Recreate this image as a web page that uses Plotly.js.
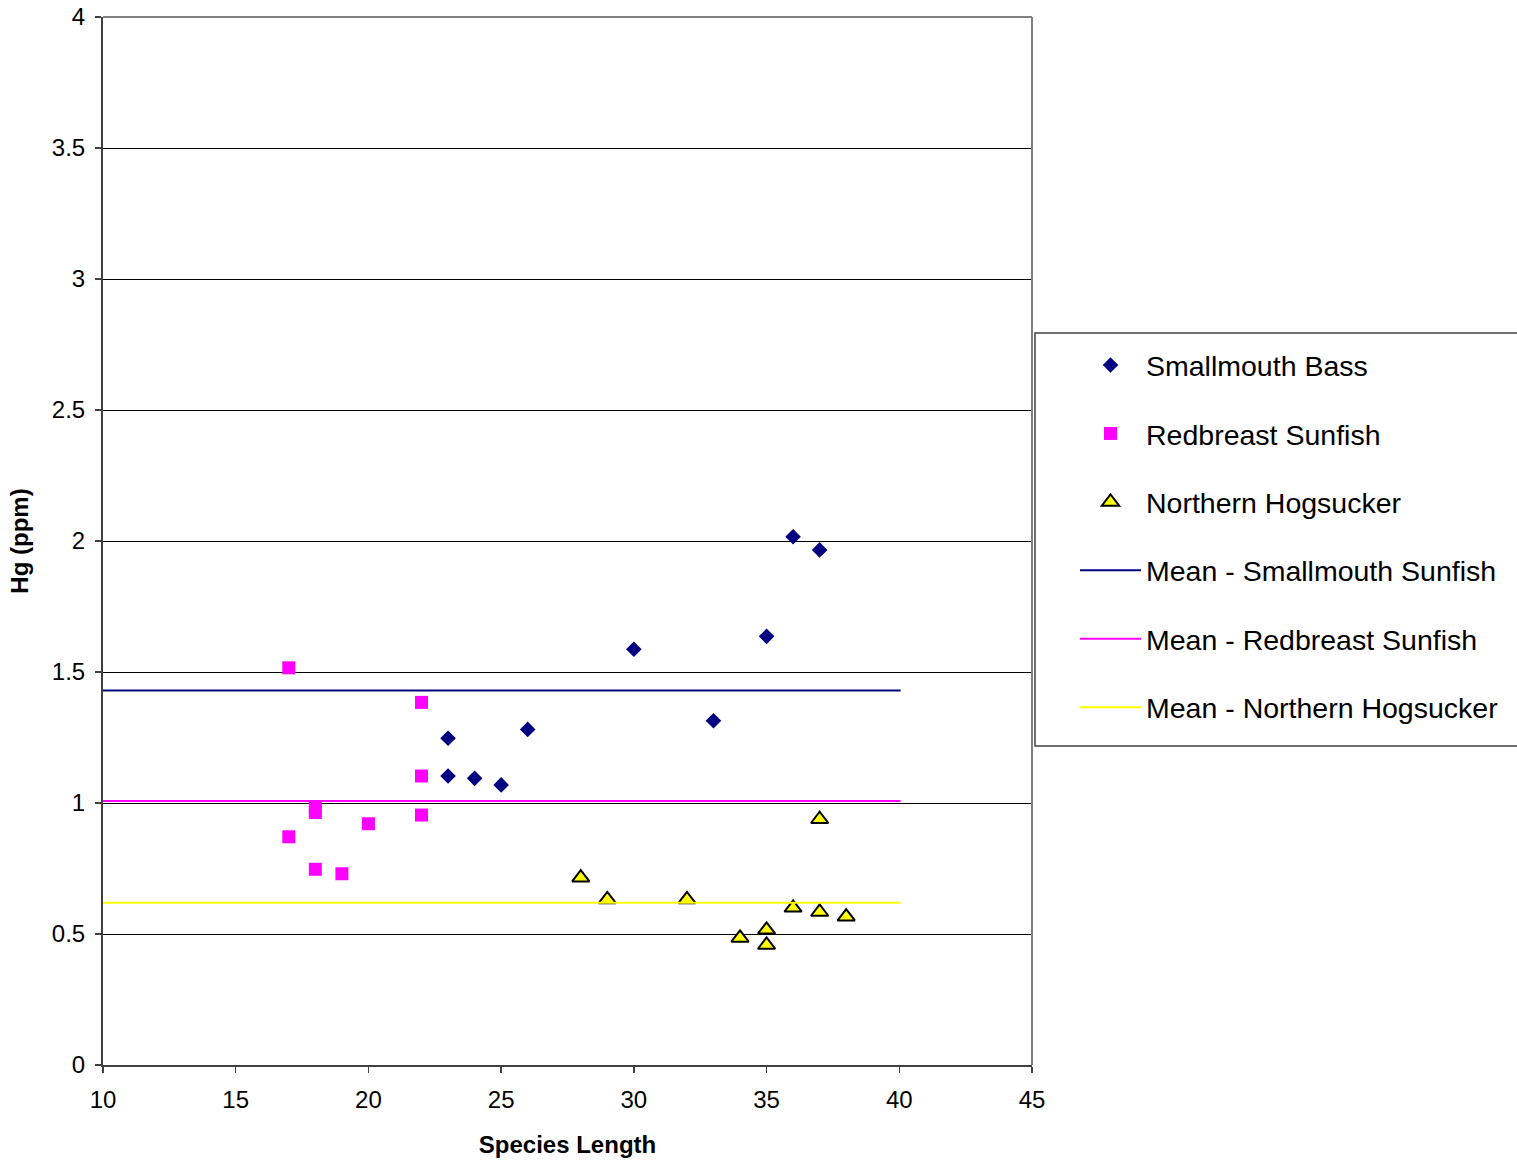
<!DOCTYPE html>
<html>
<head>
<meta charset="utf-8">
<script src="https://cdn.plot.ly/plotly-3.0.1.min.js"></script>
<style>
  html, body { margin: 0; padding: 0; background: #ffffff; }
  #chart { width: 1517px; height: 1161px; }
</style>
</head>
<body>
<div id="chart"></div>
<script>
// ---- Data ----
const bassLength = [23, 23, 24, 25, 26, 30, 33, 35, 36, 37];
const bassHg     = [1.247, 1.103, 1.094, 1.069, 1.281, 1.587, 1.314, 1.636, 2.016, 1.966];

const sunfishLength = [17, 17, 18, 18, 18, 19, 20, 22, 22, 22];
const sunfishHg     = [1.516, 0.871, 0.983, 0.964, 0.747, 0.730, 0.921, 1.384, 1.103, 0.954];

const hogLength = [28, 29, 32, 34, 35, 35, 36, 37, 37, 38];
const hogHg     = [0.715, 0.632, 0.632, 0.485, 0.516, 0.458, 0.600, 0.584, 0.938, 0.566];

const meanLength   = [9.75, 40.05];
const meanBass     = [1.429, 1.429];
const meanSunfish  = [1.008, 1.008];
const meanHog      = [0.619, 0.619];

const seriesNames = [
  'Smallmouth Bass',
  'Redbreast Sunfish',
  'Northern Hogsucker',
  'Mean - Smallmouth Sunfish',
  'Mean - Redbreast Sunfish',
  'Mean - Northern Hogsucker'
];

const xTitle = 'Species Length';
const yTitle = 'Hg (ppm)';

// ---- Styling ----
const FONT = '"Liberation Sans", Arial, sans-serif';
const NAVY = '#000080';
const MAGENTA = '#FF00FF';
const YELLOW = '#FFFF00';

const traces = [
  {
    x: bassLength, y: bassHg, name: seriesNames[0], type: 'scatter', mode: 'markers',
    legendgroup: 'g1',
    marker: { symbol: 'diamond', size: 12, color: NAVY, line: { width: 0 } }
  },
  {
    x: sunfishLength, y: sunfishHg, name: seriesNames[1], type: 'scatter', mode: 'markers',
    legendgroup: 'g2',
    marker: { symbol: 'square', size: 13, color: MAGENTA, line: { width: 0 } }
  },
  {
    x: hogLength, y: hogHg, name: seriesNames[2], type: 'scatter', mode: 'markers',
    legendgroup: 'g3',
    marker: { symbol: 'triangle-up', size: 15, color: YELLOW, line: { width: 2, color: '#000000' } }
  },
  {
    x: meanLength, y: meanBass, name: seriesNames[3], type: 'scatter', mode: 'lines',
    legendgroup: 'g4', cliponaxis: false,
    line: { color: NAVY, width: 2 }
  },
  {
    x: meanLength, y: meanSunfish, name: seriesNames[4], type: 'scatter', mode: 'lines',
    legendgroup: 'g5', cliponaxis: false,
    line: { color: MAGENTA, width: 2 }
  },
  {
    x: meanLength, y: meanHog, name: seriesNames[5], type: 'scatter', mode: 'lines',
    legendgroup: 'g6', cliponaxis: false,
    line: { color: YELLOW, width: 2 }
  }
];

const layout = {
  width: 1517,
  height: 1161,
  margin: { l: 103, r: 485, t: 17, b: 96, pad: 0 },
  paper_bgcolor: '#ffffff',
  plot_bgcolor: '#ffffff',
  font: { family: FONT, color: '#000000', size: 24 },
  showlegend: true,
  legend: {
    x: 1.0463, xanchor: 'left',
    y: 0.6918, yanchor: 'top',
    bgcolor: 'rgba(0,0,0,0)',
    borderwidth: 0,
    font: { family: FONT, size: 28.5, color: '#000000' },
    traceorder: 'grouped',
    tracegroupgap: 28.4,
    itemwidth: 61,
    itemsizing: 'trace'
  },
  xaxis: {
    range: [10, 45],
    tickmode: 'linear', tick0: 10, dtick: 5,
    ticks: 'outside', ticklen: 6, tickwidth: 1.5, tickcolor: '#404040',
    ticklabelstandoff: 6,
    showgrid: false, zeroline: false,
    showline: true, linecolor: '#404040', linewidth: 2,
    tickfont: { family: FONT, size: 24, color: '#000000' },
    title: { text: xTitle, font: { family: FONT, size: 24, color: '#000000', weight: 'bold' }, standoff: 24 }
  },
  yaxis: {
    range: [0, 4],
    tickmode: 'linear', tick0: 0, dtick: 0.5,
    ticks: 'outside', ticklen: 6, tickwidth: 1.5, tickcolor: '#404040',
    ticklabelstandoff: 5,
    showgrid: true, gridcolor: '#000000', gridwidth: 1,
    zeroline: false,
    showline: true, linecolor: '#404040', linewidth: 2,
    tickfont: { family: FONT, size: 24, color: '#000000' },
    title: { text: yTitle, font: { family: FONT, size: 24, color: '#000000', weight: 'bold' }, standoff: 16 }
  },
  shapes: [
    // top border of plot area
    { type: 'line', xref: 'paper', yref: 'paper', x0: 0, x1: 1, y0: 1, y1: 1,
      line: { color: '#808080', width: 2 } },
    // right border of plot area
    { type: 'line', xref: 'paper', yref: 'paper', x0: 1, x1: 1, y0: 0, y1: 1,
      line: { color: '#808080', width: 2 } },
    // legend frame (extends beyond the right edge as in the reference)
    { type: 'rect', xref: 'paper', yref: 'paper', x0: 1.0032, x1: 1.7, y0: 0.3044, y1: 0.6985,
      line: { color: '#404040', width: 1.5 }, fillcolor: 'rgba(0,0,0,0)' }
  ]
};

Plotly.newPlot('chart', traces, layout, { displayModeBar: false, staticPlot: true });
</script>
</body>
</html>
